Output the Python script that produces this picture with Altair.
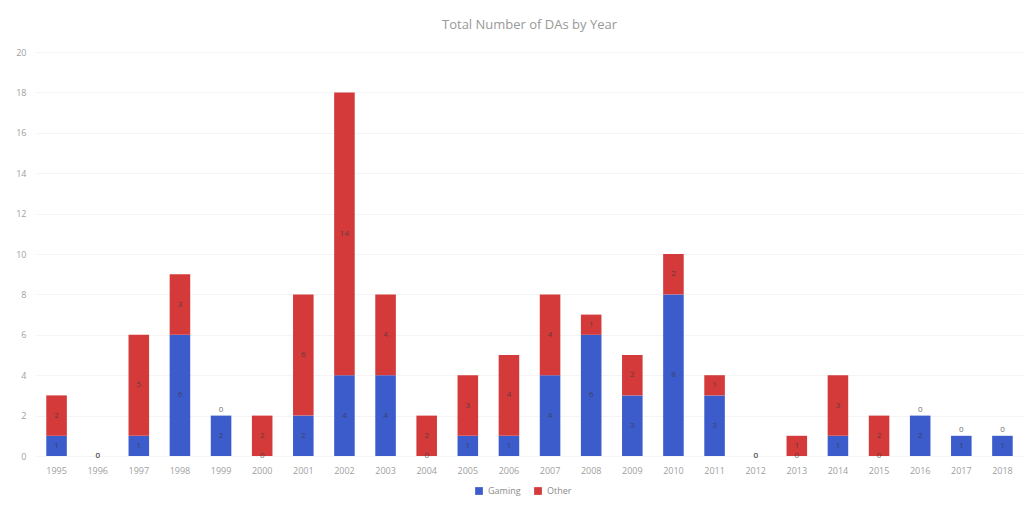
import altair as alt
import pandas as pd

years = [str(y) for y in range(1995, 2019)]
gaming = [1, 0, 1, 6, 2, 0, 2, 4, 4, 0, 1, 1, 4, 6, 3, 8, 3, 0, 0, 1, 0, 2, 1, 1]
other = [2, 0, 5, 3, 0, 2, 6, 14, 4, 2, 3, 4, 4, 1, 2, 2, 1, 0, 1, 3, 2, 0, 0, 0]
series = ["Gaming", "Other"]
colors = ["#3c5ccc", "#d43a3a"]

rows = []
for i, y in enumerate(years):
    rows.append({"year": y, "series": series[0], "value": gaming[i], "ord": 0})
    rows.append({"year": y, "series": series[1], "value": other[i], "ord": 1})
df = pd.DataFrame(rows)

base = alt.Chart(df).transform_stack(
    stack="value", as_=["y0", "y1"], groupby=["year"], sort=[alt.SortField("ord")]
).transform_calculate(
    mid="datum.value == 0 ? (datum.ord == 0 || datum.y1 == 0 ? datum.y0 : datum.y1 + 0.3) : (datum.y0 + datum.y1) / 2"
)

x = alt.X("year:N", sort=years, title=None,
          scale=alt.Scale(paddingInner=0.5, paddingOuter=0.25),
          axis=alt.Axis(labelAngle=0, domain=False, ticks=False, labelColor="#a0a0a0",
                        labelFontSize=9, labelPadding=10, labelFont="Open Sans"))

bars = base.mark_bar().encode(
    x=x,
    y=alt.Y("y0:Q", title=None, scale=alt.Scale(domain=[0, 20], nice=False),
            axis=alt.Axis(values=list(range(0, 21, 2)), domain=False, ticks=False,
                          labelColor="#a0a0a0", labelFontSize=9, labelPadding=10,
                          gridColor="#f4f4f4", labelFont="Open Sans")),
    y2="y1:Q",
    color=alt.Color("series:N", scale=alt.Scale(domain=series, range=colors),
                    legend=alt.Legend(title=None, orient="none", direction="horizontal",
                                      legendX=438, legendY=434, symbolType="square",
                                      symbolSize=60, labelFontSize=9, labelColor="#8a8a8a",
                                      labelFont="Open Sans", columnPadding=12)),
)

labels = base.mark_text(fontSize=8, color="#3a3a3a", baseline="middle",
                        font="Open Sans", opacity=0.75).encode(
    x=alt.X("year:N", sort=years),
    y=alt.Y("mid:Q"),
    text=alt.Text("value:Q"),
)

chart = alt.layer(bars, labels).properties(
    width=987, height=404,
    autosize=alt.AutoSizeParams(type="none"),
    padding={"left": 36, "top": 52, "right": 5, "bottom": 50},
    title=alt.TitleParams("Total Number of DAs by Year", fontSize=13, fontWeight="normal",
                          color="#999999", font="Open Sans", offset=16, anchor="middle"),
).configure_view(stroke=None)

chart.save("out.html", embed_options={"renderer": "svg", "actions": False})
